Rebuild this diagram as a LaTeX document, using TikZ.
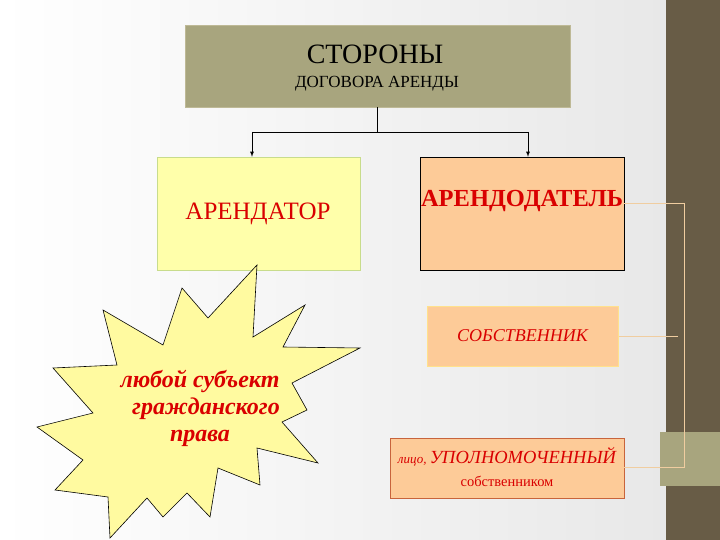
\documentclass[tikz,border=0pt]{standalone}
\usepackage{fontspec}
\setmainfont{Liberation Serif}
\begin{document}
\begin{tikzpicture}[x=1pt,y=-1pt,
  lbl/.style={text=red!85!black},
  conn/.style={draw=black,line width=0.8pt},
  tan/.style={draw={rgb,255:red,240;green,205;blue,160},line width=1pt}]
\useasboundingbox (0,0) rectangle (720,540);
\shade[left color=white,right color=gray!18] (0,0) rectangle (666,540);
\fill[fill={rgb,255:red,104;green,92;blue,70}] (666,0) rectangle (720,540);
\fill[fill={rgb,255:red,168;green,165;blue,126}] (660,432) rectangle (720,486);
% boxes
\node[draw={rgb,255:red,190;green,185;blue,150},fill={rgb,255:red,168;green,165;blue,126},minimum width=385,minimum height=82,inner sep=0] (top) at (377.5,66) {};
\node[font=\fontsize{28}{32}\selectfont] (t1) at (375,54) {СТОРОНЫ};
\node[font=\fontsize{17}{20}\selectfont] (t2) at (377,84) {ДОГОВОРА АРЕНДЫ};
\node[draw={rgb,255:red,200;green,220;blue,140},fill={rgb,255:red,255;green,255;blue,170},minimum width=203,minimum height=113,inner sep=0] (ar) at (258.5,213.5) {};
\node[lbl,font=\fontsize{25}{28}\selectfont] at (258,214) {АРЕНДАТОР};
\node[draw=black,fill={rgb,255:red,253;green,203;blue,152},minimum width=204,minimum height=113,inner sep=0] (ad) at (522,213.5) {};
\node[lbl,font=\bfseries\fontsize{24.5}{28}\selectfont] at (522,201) {АРЕНДОДАТЕЛЬ};
\node[draw={rgb,255:red,255;green,225;blue,140},line width=1pt,fill={rgb,255:red,253;green,203;blue,152},minimum width=191,minimum height=60,inner sep=0,lbl,font=\itshape\fontsize{18}{21}\selectfont] (so) at (522.5,336) {СОБСТВЕННИК};
\node[draw={rgb,255:red,200;green,100;blue,60},fill={rgb,255:red,253;green,203;blue,152},minimum width=234,minimum height=60,inner sep=0] (up) at (507,468) {};
\node[lbl] (u1) at (507,457) {{\itshape\fontsize{13}{15}\selectfont лицо, }{\itshape\fontsize{18.5}{21}\selectfont УПОЛНОМОЧЕННЫЙ}};
\node[lbl,font=\fontsize{14.5}{17}\selectfont] (u2) at (507,481) {собственником};
% connectors
\coordinate (hl) at (252,132);
\coordinate (hr) at (528,132);
\draw[conn] (top.south) -- ++(0,25);
\draw[conn] (hl) -- (hr);
\draw[conn,-latex] (hl) -- (hl |- ar.north);
\draw[conn,-latex] (hr) -- (hr |- ad.north);
\coordinate (c1) at (684,204);
\coordinate (c2) at (684,467);
\draw[tan] (ad.east |- c1) -- (c1) -- (c2) -- (up.east |- c2);
\draw[tan] (so.east) -- (678,336);
% star
\draw[fill={rgb,255:red,255;green,250;blue,160},line width=0.6pt]
(257,265)--(253,337)--(305,305)--(283,347)--(360,348)--(292,383)--(307,410)--(282,422)--(318,463)--(257,448)--(260,485)--(218,468)--(210,517)--(187,493)--(163,517)--(147,498)--(110,538)--(108,497)--(55,490)--(83,460)--(37,427)--(93,413)--(53,368)--(117,365)--(103,310)--(163,345)--(182,288)--(208,318)--cycle;
\node[lbl,font=\bfseries\itshape\fontsize{24}{27}\selectfont,align=center] (st) at (200,408) {любой субъект\\ \ \ гражданского\\ права};
\end{tikzpicture}
\end{document}
